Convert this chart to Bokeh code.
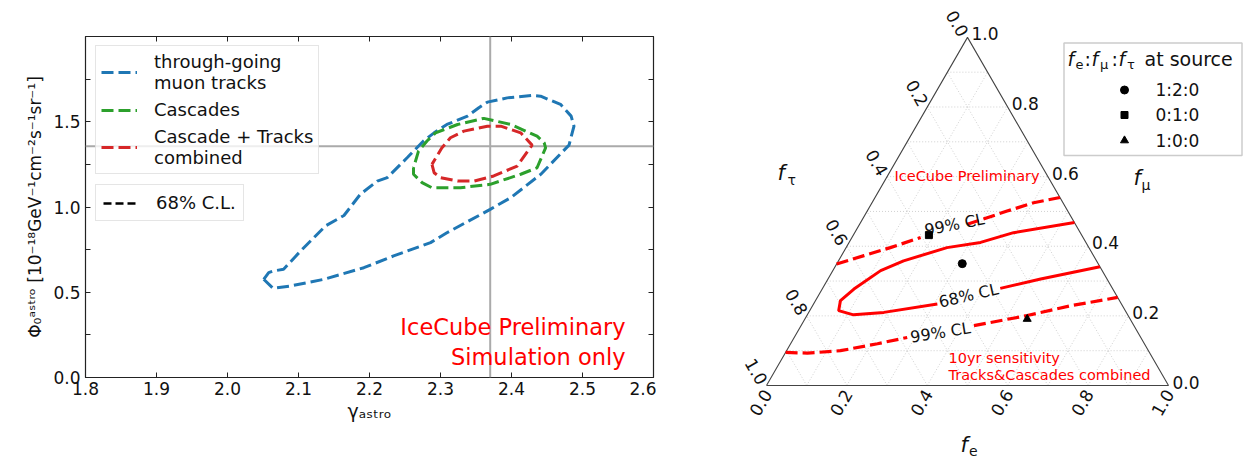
import numpy as np
from bokeh.plotting import figure
from bokeh.models import (Range1d, LinearAxis, FixedTicker, Span, Legend, LegendItem,
                          CustomJSTickFormatter, PrintfTickFormatter)
from bokeh.layouts import row, column
from bokeh.embed import file_html
from bokeh.resources import INLINE
from bokeh.core.properties import value

FONT = "DejaVu Sans"

# ---------------- left panel data ----------------
x_ticks = [1.8, 1.9, 2.0, 2.1, 2.2, 2.3, 2.4, 2.5, 2.6]
y_ticks = [0.0, 0.5, 1.0, 1.5]
y_minor = [0.25, 0.75, 1.25, 1.75]
best_gamma = 2.37
best_phi = 1.357

tracks_gamma = [2.051, 2.058, 2.065, 2.079, 2.103, 2.138, 2.164, 2.187, 2.211, 2.225, 2.253,
                2.276, 2.291, 2.309, 2.338, 2.354, 2.366, 2.394, 2.429, 2.441, 2.469, 2.484,
                2.488, 2.481, 2.441, 2.399, 2.370, 2.309, 2.286, 2.234, 2.192, 2.136, 2.089,
                2.064, 2.051]
tracks_phi = [0.576, 0.615, 0.625, 0.635, 0.742, 0.889, 0.950, 1.074, 1.152, 1.172, 1.289,
              1.387, 1.435, 1.484, 1.533, 1.582, 1.615, 1.640, 1.654, 1.650, 1.602, 1.533,
              1.474, 1.363, 1.191, 1.055, 0.986, 0.849, 0.791, 0.713, 0.644, 0.576, 0.537,
              0.524, 0.576]
casc_gamma = [2.262, 2.262, 2.274, 2.288, 2.328, 2.370, 2.413, 2.436, 2.448, 2.446, 2.436,
              2.399, 2.361, 2.324, 2.293, 2.281, 2.269, 2.262]
casc_phi = [1.230, 1.192, 1.143, 1.113, 1.113, 1.133, 1.192, 1.230, 1.347, 1.377, 1.416,
            1.484, 1.520, 1.484, 1.435, 1.387, 1.328, 1.230]
comb_gamma = [2.288, 2.291, 2.300, 2.324, 2.347, 2.375, 2.408, 2.429, 2.413, 2.385, 2.366,
              2.333, 2.314, 2.302, 2.288]
comb_phi = [1.250, 1.201, 1.172, 1.152, 1.152, 1.182, 1.240, 1.363, 1.435, 1.474, 1.474,
            1.445, 1.406, 1.347, 1.250]
series_labels = ["through-going\nmuon tracks", "Cascades", "Cascade + Tracks\ncombined"]
series_colors = ["#1f77b4", "#2ca02c", "#d62728"]

# ---------------- right panel data ----------------
tern_ticks = [0.0, 0.2, 0.4, 0.6, 0.8, 1.0]
grid_vals = [0.1, 0.2, 0.3, 0.4, 0.5, 0.6, 0.7, 0.8, 0.9]
nan = float("nan")
cl68_fe = [0.532, 0.395, 0.327, 0.251, 0.162, 0.119, 0.079, 0.062, 0.072, 0.115, 0.187, 0.308,
           nan, 0.442, 0.529, 0.659]
cl68_fmu = [0.468, 0.439, 0.411, 0.396, 0.358, 0.330, 0.277, 0.244, 0.215, 0.203, 0.210, 0.234,
            nan, 0.279, 0.306, 0.341]
cl99_up_fe = [0.0, 0.056, 0.110, 0.171, nan, 0.268, 0.308, 0.348, 0.402, 0.460]
cl99_up_fmu = [0.349, 0.373, 0.396, 0.425, nan, 0.463, 0.482, 0.501, 0.525, 0.540]
cl99_lo_fe = [0.0, 0.055, 0.134, 0.216, 0.281, nan, 0.430, 0.548, 0.642, 0.747]
cl99_lo_fmu = [0.095, 0.093, 0.100, 0.120, 0.138, nan, 0.172, 0.201, 0.229, 0.253]
source_labels = ["1:2:0", "0:1:0", "1:0:0"]
source_markers = ["circle", "square", "triangle"]
source_fe = [0.312, 0.188, 0.553]
source_fmu = [0.350, 0.432, 0.191]

# ================= left panel =================
p = figure(width=656, height=460, x_range=Range1d(1.8, 2.6), y_range=Range1d(0.0, 2.0),
           output_backend="svg", toolbar_location=None,
           min_border_left=85, min_border_right=3, min_border_top=36, min_border_bottom=83,
           x_axis_location=None, y_axis_location=None)
p.grid.visible = False
p.outline_line_color = "#222222"
p.outline_line_width = 1.2


def style_axis(ax, labels=True):
    ax.axis_line_color = None
    ax.major_tick_in = 5
    ax.major_tick_out = 0
    ax.minor_tick_in = 5
    ax.minor_tick_out = 0
    ax.major_tick_line_color = "#222222"
    ax.minor_tick_line_color = "#222222"
    ax.major_label_text_font = FONT
    ax.major_label_text_font_size = "17px"
    ax.major_label_text_color = "#111111"
    ax.axis_label_text_font = FONT
    ax.axis_label_text_font_style = "normal"
    ax.axis_label_text_color = "#111111"
    if labels:
        ax.formatter = PrintfTickFormatter(format="%.1f")
    else:
        ax.formatter = CustomJSTickFormatter(code="return ''")
        ax.major_label_standoff = 0


xb = LinearAxis(ticker=FixedTicker(ticks=x_ticks), axis_label="γₐₛₜᵣₒ")
style_axis(xb)
xb.major_label_standoff = 4
xb.axis_label_standoff = 2
xb.axis_label_text_font_size = "19px"
yl = LinearAxis(ticker=FixedTicker(ticks=y_ticks, minor_ticks=y_minor),
                axis_label="Φ₀ᵃˢᵗʳᵒ [10⁻¹⁸GeV⁻¹cm⁻²s⁻¹sr⁻¹]")
style_axis(yl)
yl.major_label_standoff = 5
yl.axis_label_standoff = 5
yl.axis_label_text_font_size = "17px"
xt = LinearAxis(ticker=FixedTicker(ticks=x_ticks))
style_axis(xt, labels=False)
yr = LinearAxis(ticker=FixedTicker(ticks=y_ticks, minor_ticks=y_minor))
style_axis(yr, labels=False)
p.add_layout(xb, "below")
p.add_layout(yl, "left")
p.add_layout(xt, "above")
p.add_layout(yr, "right")

p.add_layout(Span(location=best_gamma, dimension="height", line_color="#aaaaaa",
                  line_width=2, level="underlay"))
p.add_layout(Span(location=best_phi, dimension="width", line_color="#aaaaaa",
                  line_width=2, level="underlay"))

renderers = []
for gx, gy, col in zip([tracks_gamma, casc_gamma, comb_gamma],
                       [tracks_phi, casc_phi, comb_phi], series_colors):
    renderers.append(p.line(gx, gy, line_color=col, line_width=3, line_dash="12 5"))
# legend-only key line, placed below the visible y range
r_cl = p.line([1.8, 2.6], [-1.0, -1.0], line_color="black", line_width=2.5, line_dash="8 4")

common = dict(label_text_font=FONT, label_text_font_size="18px", label_text_color="#111111",
              glyph_width=36, label_standoff=17, margin=0,
              border_line_color="#cccccc", border_line_width=1.5,
              background_fill_color="white", background_fill_alpha=0.8)
leg1 = Legend(items=[LegendItem(label=l, renderers=[r]) for l, r in zip(series_labels, renderers)],
              location=(10, 203), padding=5, spacing=6, glyph_height=20, label_height=20,
              label_text_line_height=1.07, **common)
leg2 = Legend(items=[LegendItem(label="68% C.L.", renderers=[r_cl])],
              location=(10, 156), padding=7, spacing=0, glyph_height=16, label_height=16,
              **common)
p.add_layout(leg1)
p.add_layout(leg2)

p.text(x=[2.5606], y=[0.209], text=["IceCube Preliminary\nSimulation only"],
       text_align="right", text_baseline="middle", text_color="#ff0000",
       text_font=value(FONT), text_font_size="22.5px", text_line_height=1.13)

# ================= right panel (ternary) =================
S = 402.0
W2, H2 = 592, 460
X0, Y0 = 110, 75
OFF_X = 656
SQ3 = np.sqrt(3) / 2
q = figure(width=W2, height=H2, x_range=Range1d(-X0 / S, (W2 - X0) / S),
           y_range=Range1d(-Y0 / S, (H2 - Y0) / S), output_backend="svg",
           toolbar_location=None, min_border=0, x_axis_location=None, y_axis_location=None)
q.grid.visible = False
q.outline_line_color = None


def tx(fe, fmu):
    return np.asarray(fe, dtype=float) + np.asarray(fmu, dtype=float) / 2


def ty(fe, fmu):
    return np.asarray(fmu, dtype=float) * SQ3


def wx(px):
    return (px - OFF_X - X0) / S


def wy(py):
    return (H2 - py - Y0) / S


def txt(x, y, s, size, style="normal", align="left", baseline="middle", angle=0.0,
        color="#111111"):
    q.text(x=[x], y=[y], text=[s], text_font=value(FONT), text_font_size=size,
           text_font_style=style, text_align=align, text_baseline=baseline,
           angle=angle, angle_units="deg", text_color=color)


# grid lines
gxs, gys = [], []
for v in grid_vals:
    for a, b in [((0, v), (1 - v, v)), ((v, 0), (v, 1 - v)), ((1 - v, 0), (0, 1 - v))]:
        gxs.append([float(tx(*a)), float(tx(*b))])
        gys.append([float(ty(*a)), float(ty(*b))])
q.multi_line(gxs, gys, line_color="#c4c4c4", line_width=0.8, line_dash="1 2")

# triangle
q.line(tx([0, 1, 0, 0], [0, 0, 1, 0]), ty([0, 1, 0, 0], [0, 0, 1, 0]),
       line_color="#444444", line_width=1.1)

# tick labels
for v in tern_ticks:
    lab = f"{v:.1f}"
    # bottom axis (f_e)
    txt(float(tx(v, 0)) - 6 / S, float(ty(v, 0)) - 17 / S, lab, "17px",
        align="center", angle=60)
    # left axis (f_tau)
    txt(float(tx(0, 1 - v)) - 10 / S, float(ty(0, 1 - v)) + 14 / S, lab, "17px",
        align="center", angle=-60)
    # right axis (f_mu)
    txt(float(tx(1 - v, v)) + 4 / S, float(ty(1 - v, v)) + 3.5 / S, lab, "17px",
        align="left")

# axis titles
txt(wx(777), wy(172), "f", "21px", style="italic")
txt(wx(787), wy(179), "τ", "14px")
txt(wx(1133), wy(177), "f", "21px", style="italic")
txt(wx(1141), wy(184), "μ", "14px")
txt(wx(960), wy(444), "f", "21px", style="italic")
txt(wx(968.5), wy(450), "e", "14px")

# contours
q.line(tx(cl68_fe, cl68_fmu), ty(cl68_fe, cl68_fmu), line_color="#ff0000", line_width=3)
q.line(tx(cl99_up_fe, cl99_up_fmu), ty(cl99_up_fe, cl99_up_fmu), line_color="#ff0000",
       line_width=3.2, line_dash="12 5")
q.line(tx(cl99_lo_fe, cl99_lo_fmu), ty(cl99_lo_fe, cl99_lo_fmu), line_color="#ff0000",
       line_width=3.2, line_dash="12 5")
txt(wx(954), wy(224), "99% CL", "16px", align="center", angle=11)
txt(wx(968), wy(295), "68% CL", "16px", align="center", angle=13)
txt(wx(940), wy(332), "99% CL", "16px", align="center", angle=9)

# source markers
q.scatter(tx(source_fe, source_fmu), ty(source_fe, source_fmu), marker=source_markers,
          size=[8, 7, 8], color="black")

# annotations
txt(wx(894), wy(175), "IceCube Preliminary", "14.5px", color="#ff0000")
txt(wx(948), wy(357), "10yr sensitivity", "14.5px", color="#ff0000")
txt(wx(948), wy(374), "Tracks&Cascades combined", "14.5px", color="#ff0000")

# legend box
q.quad(left=[wx(1063.5)], right=[wx(1241.5)], top=[wy(42.5)], bottom=[wy(155)],
       fill_color="white", fill_alpha=0.8, line_color="#cccccc", line_width=1.5)
txt(wx(1067), wy(58), "f", "19px", style="italic")
txt(wx(1075), wy(64), "e", "13px")
txt(wx(1084), wy(58), ":", "19px")
txt(wx(1091), wy(58), "f", "19px", style="italic")
txt(wx(1099.5), wy(64), "μ", "13px")
txt(wx(1111), wy(58), ":", "19px")
txt(wx(1118), wy(58), "f", "19px", style="italic")
txt(wx(1126.5), wy(64), "τ", "13px")
txt(wx(1144), wy(58), "at source", "19px")
leg_y = [89.5, 114.5, 140]
q.scatter([wx(1124)] * 3, [wy(v) for v in leg_y], marker=source_markers, size=[8, 7, 8],
          color="black")
for lab, yy in zip(source_labels, leg_y):
    txt(wx(1155), wy(yy), lab, "17px")

layout = row(column(p), column(q))
open("out.html", "w").write(file_html(layout, INLINE))
